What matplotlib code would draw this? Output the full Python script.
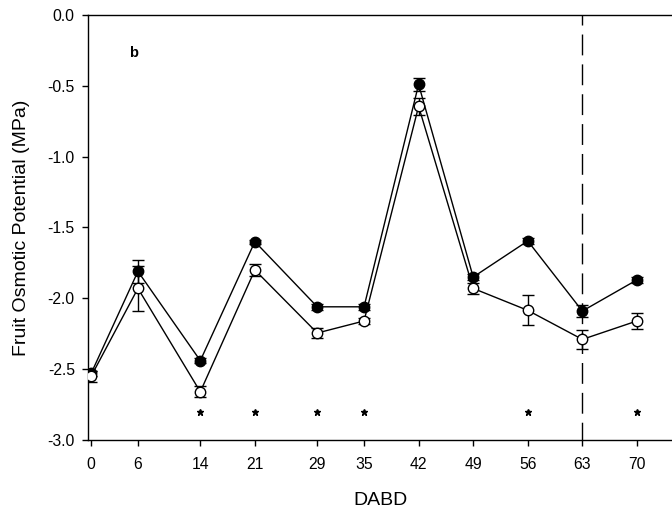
import matplotlib
matplotlib.use("Agg")
import matplotlib.pyplot as plt

plt.rcParams['font.family'] = ['Liberation Sans', 'DejaVu Sans']

days = [0, 6, 14, 21, 29, 35, 42, 49, 56, 63, 70]
filled_vals = [-2.53, -1.81, -2.44, -1.60, -2.06, -2.06, -0.49, -1.85, -1.595, -2.09, -1.87]
filled_err = [0.02, 0.08, 0.02, 0.015, 0.02, 0.02, 0.047, 0.02, 0.02, 0.045, 0.02]
open_vals = [-2.55, -1.93, -2.66, -1.80, -2.245, -2.16, -0.645, -1.93, -2.085, -2.29, -2.16]
open_err = [0.04, 0.16, 0.04, 0.045, 0.035, 0.02, 0.062, 0.04, 0.105, 0.068, 0.058]
star_days = [14, 21, 29, 35, 56, 70]
star_y = -2.80
vline_day = 63
panel_label = "b"

fig = plt.figure(figsize=(6.72, 5.17), dpi=100)
ax = fig.add_axes([0.131, 0.149, 0.869, 0.822])

ax.errorbar(days, filled_vals, yerr=filled_err, color='black', lw=1,
            marker='o', ms=7.5, mfc='black', mec='black',
            capsize=4.6, elinewidth=1, capthick=1, zorder=3)
ax.errorbar(days, open_vals, yerr=open_err, color='black', lw=1,
            marker='o', ms=7.5, mfc='white', mec='black', mew=1,
            capsize=4.6, elinewidth=1, capthick=1, zorder=3)

ax.plot(star_days, [star_y] * len(star_days), ls='none', marker='*',
        ms=5, color='black')

ax.axvline(vline_day, color='black', lw=1, linestyle=(2.2, (15, 6.5)),
           zorder=1)

ax.text(5.4, -0.27, panel_label, fontsize=10.5, fontweight='bold',
        ha='center', va='center')

ax.set_xlim(-0.4, 74.5)
ax.set_ylim(-3.0, 0.0)
ax.set_xticks(days)
ax.set_xticklabels([str(d) for d in days])
ax.set_yticks([-3.0, -2.5, -2.0, -1.5, -1.0, -0.5, 0.0])
ax.set_yticklabels(['-3.0', '-2.5', '-2.0', '-1.5', '-1.0', '-0.5', '0.0'])
ax.tick_params(axis='both', direction='out', length=4.5, width=1,
               labelsize=11.3)
ax.tick_params(axis='x', pad=7.5)
ax.tick_params(axis='y', pad=5)
ax.spines['right'].set_visible(False)
for s in ['left', 'top', 'bottom']:
    ax.spines[s].set_linewidth(1)

ax.set_xlabel('DABD', fontsize=14, labelpad=15)
ax.set_ylabel('Fruit Osmotic Potential (MPa)', fontsize=14, labelpad=12.5)

fig.savefig('out.png', dpi=100)
